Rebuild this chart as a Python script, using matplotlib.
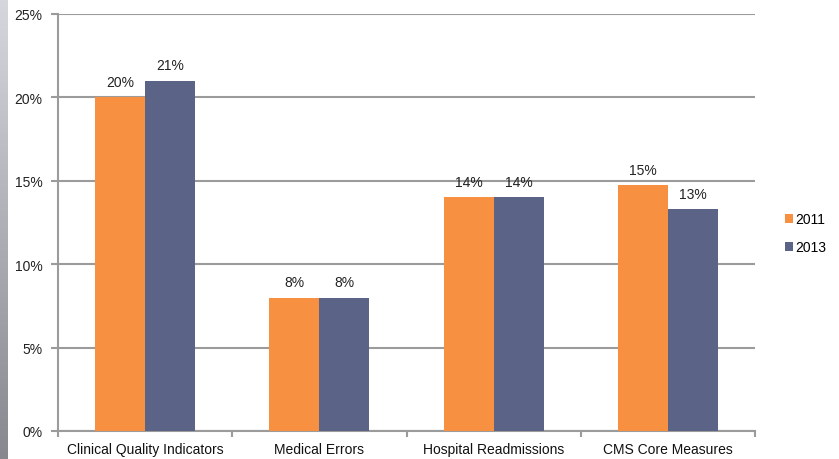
import matplotlib.pyplot as plt
import numpy as np

categories = ["Clinical Quality Indicators", "Medical Errors", "Hospital Readmissions", "CMS Core Measures"]
vals_2011 = [20.0, 8.0, 14.0, 14.75]
vals_2013 = [21.0, 8.0, 14.0, 13.3]
series = ["2011", "2013"]
colors = ["#F79040", "#5B6486"]
grid_col = "#9B9B9B"

plt.rcParams['font.family'] = ['Liberation Sans', 'DejaVu Sans']

fig = plt.figure(figsize=(8.39, 4.6), dpi=100)

# gray strip on the left edge, light at top, darker at bottom
strip = fig.add_axes([0, 0, 8/839, 1])
top = np.array([0.84, 0.84, 0.87])
bot = np.array([0.53, 0.53, 0.56])
t = np.linspace(0, 1, 256).reshape(-1, 1, 1)
grad = top * (1 - t) + bot * t
strip.imshow(grad, aspect='auto', extent=[0, 1, 0, 1])
strip.axis('off')

ax = fig.add_axes([58/839, 1 - 432/460, (755 - 58)/839, (432 - 15)/460])
x = np.arange(len(categories))
w = 0.287
b1 = ax.bar(x - w/2, vals_2011, w, color=colors[0], label=series[0], zorder=3)
b2 = ax.bar(x + w/2, vals_2013, w, color=colors[1], label=series[1], zorder=3)

for bars, vals in ((b1, vals_2011), (b2, vals_2013)):
	for r, v in zip(bars, vals):
		ax.text(r.get_x() + r.get_width()/2, v + 0.5, "%d%%" % round(v), ha='center', va='bottom', fontsize=10, color='#222222')

ax.set_xlim(-0.5, 3.5)
ax.set_ylim(0, 25)
ax.set_yticks(np.arange(0, 26, 5))
ax.set_yticklabels(["%d%%" % v for v in range(0, 26, 5)], fontsize=10, color='#222222')
ax.set_xticks(x)
ax.set_xticklabels(categories, fontsize=10, color='#111111')
ax.set_xticks(np.arange(-0.5, 4, 1), minor=True)
ax.tick_params(axis='x', which='major', length=0, pad=8)
ax.tick_params(axis='x', which='minor', length=4, width=1.5, color=grid_col)
ax.tick_params(axis='y', length=5, width=1.5, color=grid_col, pad=6)
ax.grid(axis='y', color=grid_col, linewidth=1.5, zorder=0)
for s in ['top', 'right']:
	ax.spines[s].set_visible(False)
for s in ['left', 'bottom']:
	ax.spines[s].set_color(grid_col)
	ax.spines[s].set_linewidth(1.5)

fig.legend(loc='upper left', bbox_to_anchor=(772/839, 1 - 201/460), frameon=False, fontsize=10,
	handlelength=0.6, handleheight=0.6, handletextpad=0.2, labelspacing=1.0)

fig.savefig("out.png", dpi=100)
